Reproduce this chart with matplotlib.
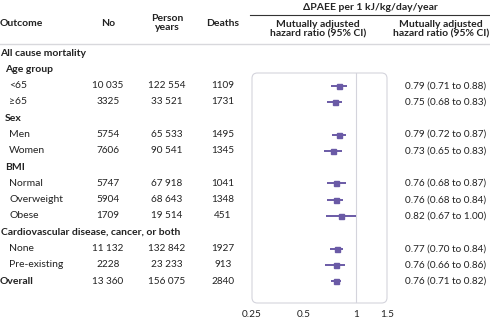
"""Forest plot: change in PAEE and all cause mortality by subgroup."""

import matplotlib

matplotlib.use("Agg")
import matplotlib.pyplot as plt
from matplotlib.patches import FancyBboxPatch

plt.rcParams["font.family"] = ["Lato", "DejaVu Sans"]

labels = ["All cause mortality", "Age group", "<65", "≥65", "Sex", "Men", "Women",
          "BMI", "Normal", "Overweight", "Obese",
          "Cardiovascular disease, cancer, or both", "None", "Pre-existing", "Overall"]
kinds = ["top", "group", "row", "row", "group", "row", "row", "group", "row", "row",
         "row", "group", "row", "row", "top"]
n_people = ["", "", "10 035", "3325", "", "5754", "7606", "", "5747", "5904", "1709",
            "", "11 132", "2228", "13 360"]
person_years = ["", "", "122 554", "33 521", "", "65 533", "90 541", "", "67 918",
                "68 643", "19 514", "", "132 842", "23 233", "156 075"]
deaths = ["", "", "1109", "1731", "", "1495", "1345", "", "1041", "1348", "451", "",
          "1927", "913", "2840"]
hr = [None, None, 0.79, 0.75, None, 0.79, 0.73, None, 0.76, 0.76, 0.82, None, 0.77, 0.76, 0.76]
lo = [None, None, 0.71, 0.68, None, 0.72, 0.65, None, 0.68, 0.68, 0.67, None, 0.70, 0.66, 0.71]
hi = [None, None, 0.88, 0.83, None, 0.87, 0.83, None, 0.87, 0.84, 1.00, None, 0.84, 0.86, 0.82]
xticks = [0.25, 0.5, 1, 1.5]
xtick_labels = ["0.25", "0.5", "1", "1.5"]

W, H = 490, 322
TXT = "#222222"
PURPLE = "#6a5aa6"
FS = 7.5
FS_NUM = 7.2

fig = plt.figure(figsize=(W / 100, H / 100), dpi=100)


def fx(x):
    return x / W


def fy(y):
    return 1 - y / H


def row_y(i):
    return 53 + 16.3 * i


# header
hdr = dict(fontsize=FS, fontweight="bold", color=TXT, va="center")
fig.text(fx(0), fy(23), "Outcome", ha="left", **hdr)
fig.text(fx(108), fy(23), "No", ha="center", **hdr)
fig.text(fx(167), fy(23), "Person\nyears", ha="center", linespacing=1.0, **hdr)
fig.text(fx(223), fy(23), "Deaths", ha="center", **hdr)
fig.text(fx(370), fy(8), "ΔPAEE per 1 kJ/kg/day/year", ha="center", **hdr)
fig.text(fx(318), fy(29), "Mutually adjusted\nhazard ratio (95% CI)", ha="center",
         multialignment="center", linespacing=1.0, **hdr)
fig.text(fx(489), fy(29), "Mutually adjusted\nhazard ratio (95% CI)", ha="right",
         multialignment="center", linespacing=1.0, **hdr)
fig.add_artist(plt.Line2D([fx(250), fx(490)], [fy(15), fy(15)], color="#333333", lw=0.8))
fig.add_artist(plt.Line2D([0, 1], [fy(43.5), fy(43.5)], color="#d8d8dc", lw=1.0))

# table rows
for i, lab in enumerate(labels):
    y = fy(row_y(i))
    kind = kinds[i]
    if kind == "top":
        fig.text(fx(0), y, lab, fontsize=FS, fontweight="bold", color=TXT, va="center")
    elif kind == "group":
        x0 = 1 if lab.startswith("Cardio") else 5
        fig.text(fx(x0), y, lab, fontsize=FS, fontweight="bold", color=TXT, va="center")
    else:
        fig.text(fx(9), y, lab, fontsize=FS, color=TXT, va="center")
    fig.text(fx(108), y, n_people[i], fontsize=FS_NUM, color=TXT, va="center", ha="center")
    fig.text(fx(167), y, person_years[i], fontsize=FS_NUM, color=TXT, va="center", ha="center")
    fig.text(fx(223), y, deaths[i], fontsize=FS_NUM, color=TXT, va="center", ha="center")
    if hr[i] is not None:
        fig.text(fx(405), y, f"{hr[i]:.2f} ({lo[i]:.2f} to {hi[i]:.2f})",
                 fontsize=FS_NUM, color=TXT, va="center", ha="left")

# forest panel
top_px, bot_px = 73, 303
ax = fig.add_axes([fx(252), fy(bot_px), fx(387) - fx(252), (bot_px - top_px) / H])
ax.set_xscale("log")
ax.set_xlim(0.25, 1.5)
ax.set_ylim((bot_px - 53) / 16.3, (top_px - 53) / 16.3)
for s in ax.spines.values():
    s.set_visible(False)
ax.add_patch(FancyBboxPatch((0, 0), 1, 1, transform=ax.transAxes,
                            boxstyle="round,pad=0,rounding_size=0.04",
                            mutation_aspect=135 / 230,
                            fc="none", ec="#d4d4dc", lw=0.8, clip_on=False))
ax.axvline(1, color="#d4d4dc", lw=0.8)

for i in range(len(labels)):
    if hr[i] is None:
        continue
    ax.plot([lo[i], hi[i]], [i, i], color=PURPLE, lw=1.4, solid_capstyle="butt")
    ax.plot(hr[i], i, marker="s", ms=3.6, color=PURPLE, mec=PURPLE)

ax.set_yticks([])
ax.set_xticks(xticks)
ax.set_xticklabels(xtick_labels)
ax.minorticks_off()
ax.tick_params(axis="x", length=0, pad=5, labelsize=FS_NUM, labelcolor=TXT)

fig.savefig("out.png", dpi=100)
